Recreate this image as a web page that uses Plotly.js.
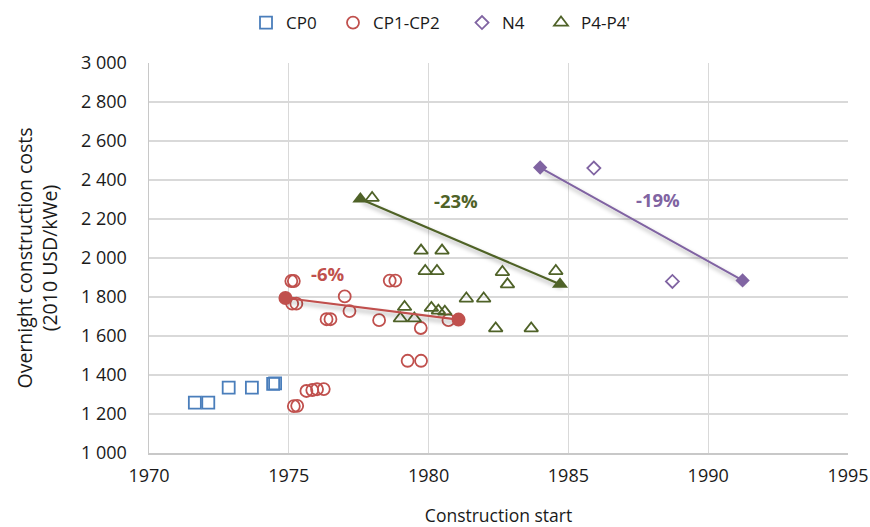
<!DOCTYPE html>
<html>
<head>
<meta charset="utf-8">
<script src="https://cdn.plot.ly/plotly-3.0.1.min.js"></script>
<style>html,body{margin:0;padding:0;background:#fff;}#chart{width:870px;height:527px;}</style>
</head>
<body>
<svg width="0" height="0" style="position:absolute">
  <defs>
    <filter id="lineShadow" x="-10%" y="-30%" width="130%" height="180%">
      <feDropShadow dx="2" dy="3.5" stdDeviation="2.2" flood-color="#000" flood-opacity="0.35"/>
    </filter>
  </defs>
</svg>
<div id="chart"></div>
<script>
// ---- data ----
const cp0Year = [1971.64, 1972.12, 1972.85, 1973.68, 1974.44, 1974.51];
const cp0Cost = [1258, 1258, 1335, 1335, 1354, 1357];

const cp12Year = [1975.09, 1975.18, 1975.12, 1975.27, 1977.0, 1977.17, 1976.35, 1976.49, 1978.23,
                  1978.61, 1978.81, 1979.72, 1980.71, 1979.25, 1979.73, 1975.18, 1975.3,
                  1975.63, 1975.84, 1976.01, 1976.25];
const cp12Cost = [1882, 1882, 1766, 1766, 1803, 1728, 1686, 1686, 1681,
                  1884, 1884, 1641, 1681, 1473, 1473, 1240, 1242,
                  1318, 1323, 1327, 1328];

const n4Year = [1985.91, 1988.72];
const n4Cost = [2461, 1880];

const p4Year = [1977.98, 1979.73, 1980.48, 1979.88, 1980.3, 1982.64, 1982.82, 1984.55,
                1981.35, 1981.97, 1979.14, 1978.99, 1979.49, 1980.1, 1980.35, 1980.58,
                1982.4, 1983.67];
const p4Cost = [2308, 2038, 2038, 1933, 1933, 1928, 1865, 1933,
                1792, 1792, 1749, 1690, 1690, 1744, 1730, 1725,
                1639, 1639];

// trend end points (filled markers)
const cp12TrendYear = [1974.88, 1981.07];
const cp12TrendCost = [1795, 1684];
const p4TrendYear = [1977.56, 1984.7];
const p4TrendCost = [2302, 1865];
const n4TrendYear = [1983.99, 1991.23];
const n4TrendCost = [2464, 1885];

const seriesNames = ['CP0', 'CP1-CP2', 'N4', "P4-P4'"];
const trendLabels = ['-6%', '-23%', '-19%'];

const xTicks = [1970, 1975, 1980, 1985, 1990, 1995];
const yTicks = [1000, 1200, 1400, 1600, 1800, 2000, 2200, 2400, 2600, 2800, 3000];
const yTickText = ['1 000', '1 200', '1 400', '1 600', '1 800', '2 000', '2 200', '2 400', '2 600', '2 800', '3 000'];

// ---- style ----
const BLUE = '#4a7ebb', RED = '#c0504d', PURPLE = '#8064a2', GREEN = '#4f6228';
const FONT = 'Open Sans, Noto Sans, sans-serif';
const TXT = '#1a1a1a';
const FS = 17;

const traces = [
  {x: cp0Year, y: cp0Cost, name: seriesNames[0], mode: 'markers', type: 'scatter', legend: 'legend',
   marker: {symbol: 'square-open', size: 12, color: BLUE, line: {width: 1.8, color: BLUE}}},
  {x: cp12Year, y: cp12Cost, name: seriesNames[1], mode: 'markers', type: 'scatter', legend: 'legend2',
   marker: {symbol: 'circle-open', size: 12, color: RED, line: {width: 1.8, color: RED}}},
  {x: n4Year, y: n4Cost, name: seriesNames[2], mode: 'markers', type: 'scatter', legend: 'legend3',
   marker: {symbol: 'diamond-open', size: 10, color: PURPLE, line: {width: 1.8, color: PURPLE}}},
  {x: p4Year, y: p4Cost, name: seriesNames[3], mode: 'markers', type: 'scatter', legend: 'legend4',
   marker: {symbol: 'triangle-up-open', size: 12, color: GREEN, line: {width: 1.8, color: GREEN}}},
  {x: cp12TrendYear, y: cp12TrendCost, mode: 'lines+markers', type: 'scatter', showlegend: false,
   line: {color: RED, width: 2.2}, marker: {symbol: 'circle', size: 14, color: RED}},
  {x: p4TrendYear, y: p4TrendCost, mode: 'lines+markers', type: 'scatter', showlegend: false,
   line: {color: GREEN, width: 2.2}, marker: {symbol: 'triangle-up', size: 14, color: GREEN}},
  {x: n4TrendYear, y: n4TrendCost, mode: 'lines+markers', type: 'scatter', showlegend: false,
   line: {color: PURPLE, width: 2}, marker: {symbol: 'diamond', size: 11, color: PURPLE}}
];

function legendAt(px) {
  return {orientation: 'h', xref: 'container', yref: 'container', x: px / 870, xanchor: 'left',
          y: 1 - 23 / 527, yanchor: 'middle', font: {family: FONT, size: FS, color: TXT},
          itemwidth: 30, bgcolor: 'rgba(0,0,0,0)'};
}

const layout = {
  width: 870, height: 527,
  margin: {l: 149, r: 22, t: 63, b: 74},
  paper_bgcolor: '#fff', plot_bgcolor: '#fff',
  font: {family: FONT, size: FS, color: TXT},
  showlegend: true,
  legend: legendAt(246),
  legend2: legendAt(333),
  legend3: legendAt(462),
  legend4: legendAt(541),
  xaxis: {range: [1970, 1995], tickvals: xTicks, ticktext: xTicks.map(String),
          showgrid: true, gridcolor: '#d9d9d9', gridwidth: 1.4,
          showline: true, linecolor: '#c8c8c8', linewidth: 1.5,
          zeroline: false, ticks: '', ticklabelstandoff: 6,
          tickfont: {family: FONT, size: 18, color: TXT},
          title: {text: 'Construction start', font: {family: FONT, size: 17.5, color: TXT}, standoff: 23}},
  yaxis: {range: [1000, 3000], tickvals: yTicks, ticktext: yTickText,
          showgrid: true, gridcolor: '#d9d9d9', gridwidth: 1.4,
          showline: true, linecolor: '#c8c8c8', linewidth: 1.5,
          zeroline: false, ticks: '', ticklabelstandoff: 17,
          tickfont: {family: FONT, size: 18, color: TXT},
          title: {text: 'Overnight construction costs<br>(2010 USD/kWe)', font: {family: FONT, size: 19.5, color: TXT}, standoff: 18}},
  annotations: [
    {x: 1976.4, y: 1920, xref: 'x', yref: 'y', text: '<b>' + trendLabels[0] + '</b>', showarrow: false,
     font: {family: FONT, size: 18.5, color: RED}},
    {x: 1980.97, y: 2294, xref: 'x', yref: 'y', text: '<b>' + trendLabels[1] + '</b>', showarrow: false,
     font: {family: FONT, size: 18.5, color: GREEN}},
    {x: 1988.2, y: 2302, xref: 'x', yref: 'y', text: '<b>' + trendLabels[2] + '</b>', showarrow: false,
     font: {family: FONT, size: 18.5, color: PURPLE}}
  ]
};

Plotly.newPlot('chart', traces, layout, {staticPlot: true, displayModeBar: false}).then(function (gd) {
  // soft shadow under the trend lines, as in the original spreadsheet chart
  const groups = gd.querySelectorAll('.scatterlayer .trace');
  [4, 5, 6].forEach(function (i) {
    if (!groups[i]) return;
    groups[i].querySelectorAll('path.js-line').forEach(function (p) {
      p.setAttribute('filter', 'url(#lineShadow)');
    });
  });
});
</script>
</body>
</html>
